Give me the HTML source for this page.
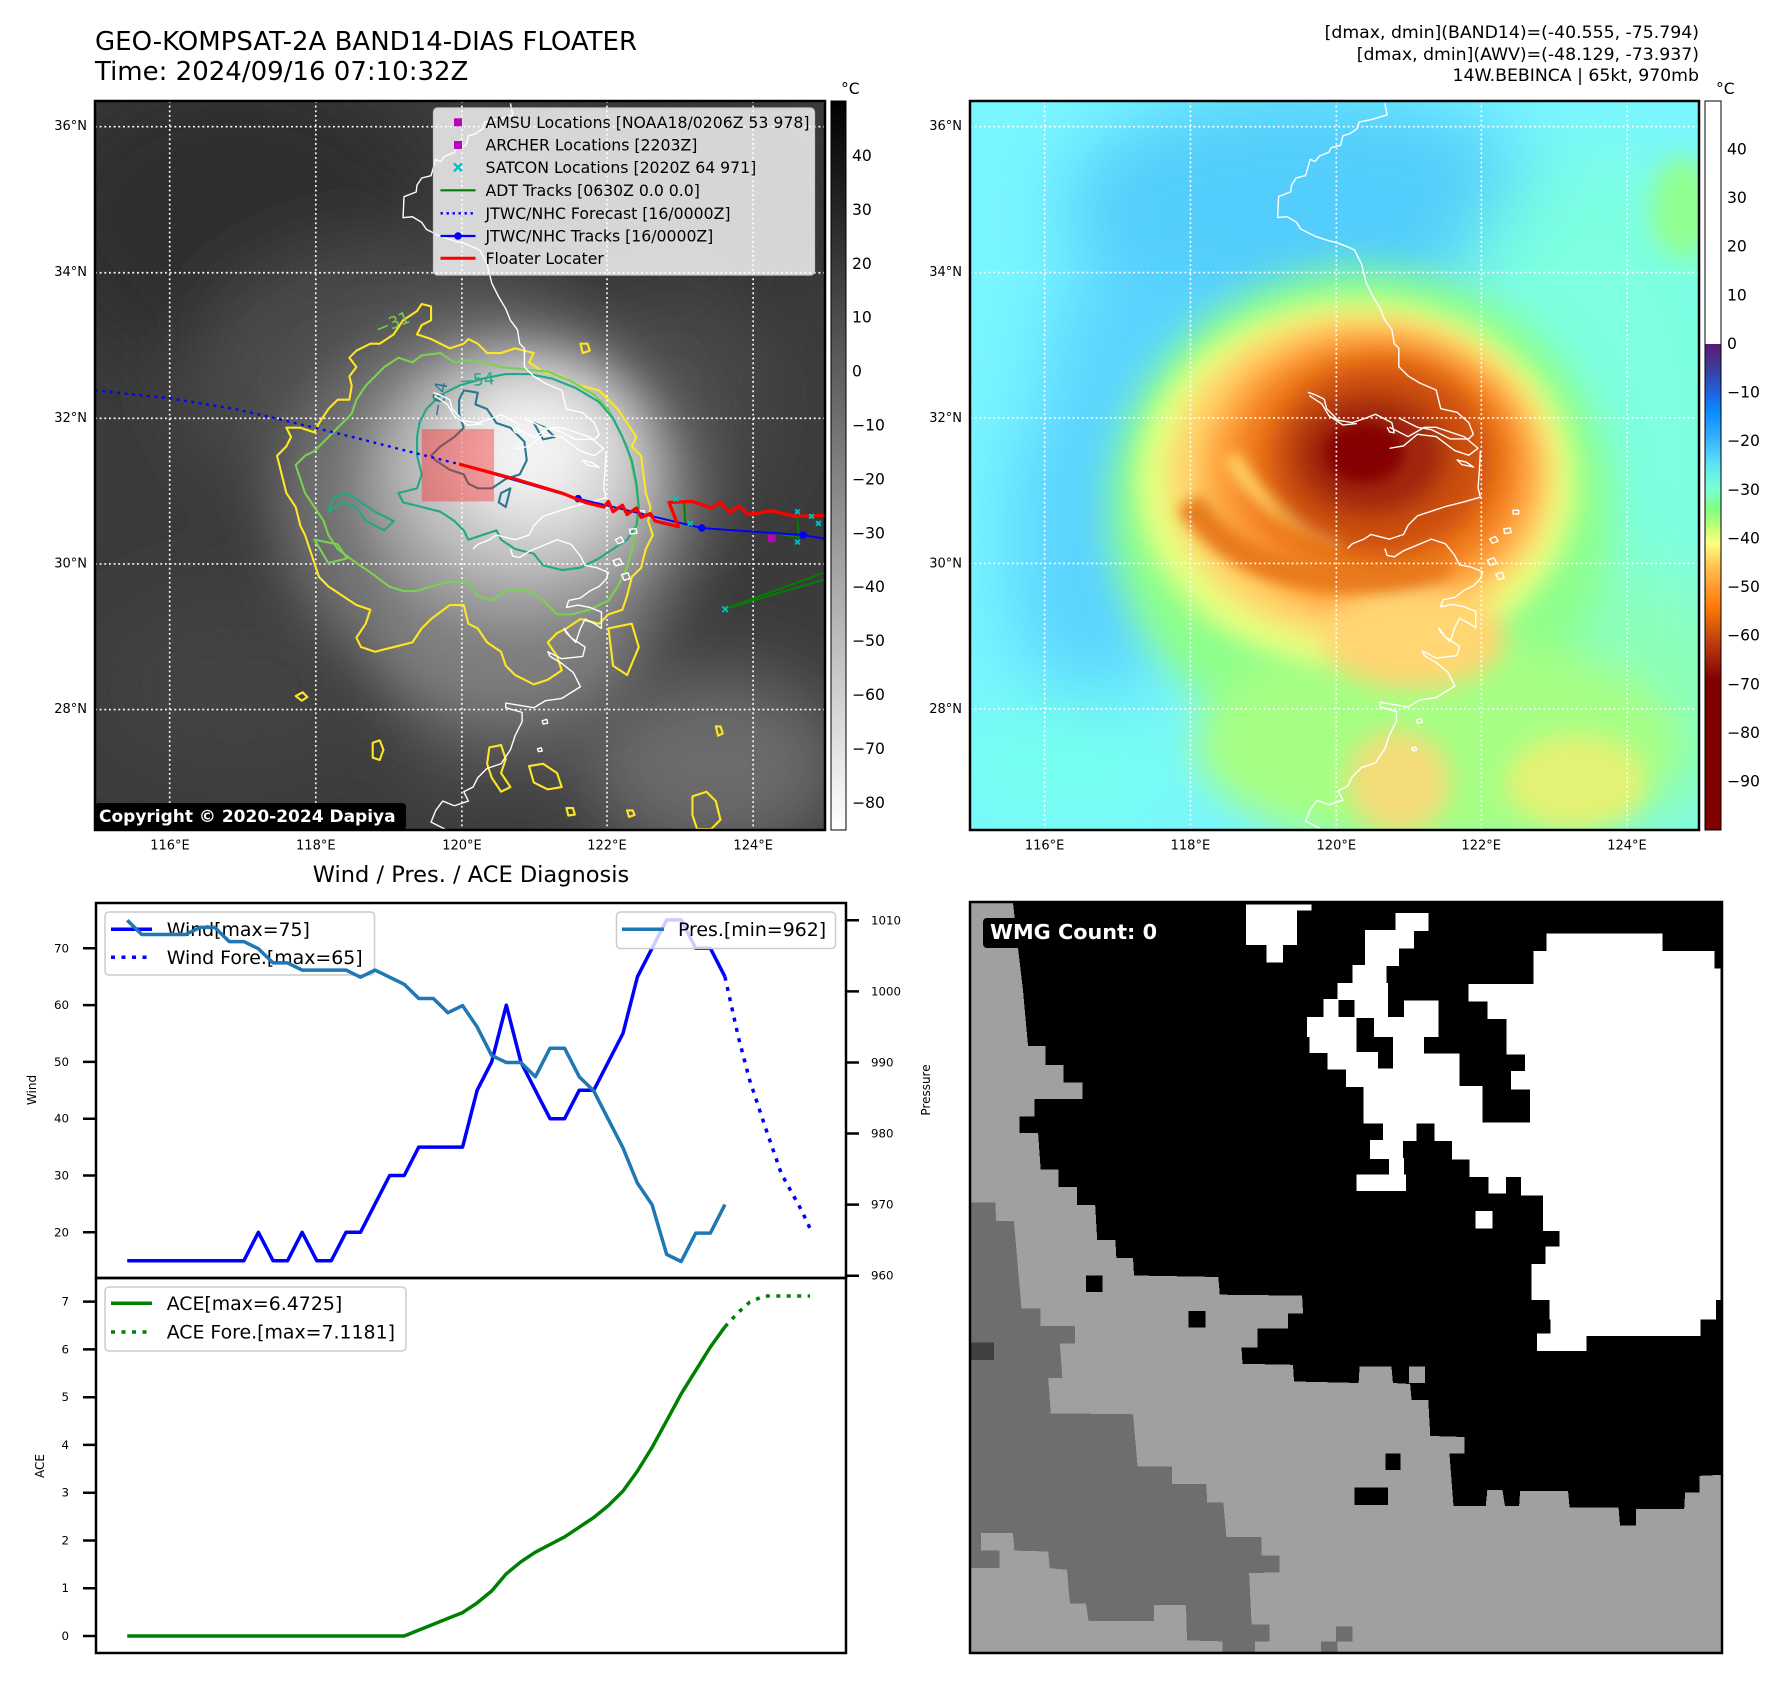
<!DOCTYPE html>
<html><head><meta charset="utf-8"><style>
html,body{margin:0;padding:0;background:#fff;}
svg{display:block;}
text{font-family:"DejaVu Sans","Liberation Sans",sans-serif;}
</style></head><body>
<svg width="1788" height="1690" viewBox="0 0 1788 1690" xmlns="http://www.w3.org/2000/svg">
<defs>
 <linearGradient id="gcb" x1="0" y1="0" x2="0" y2="1"><stop offset="0" stop-color="#000"/><stop offset="1" stop-color="#fff"/></linearGradient>
 <linearGradient id="jcb" x1="0" y1="0" x2="0" y2="1">
  <stop offset="0" stop-color="#fff"/><stop offset="0.333" stop-color="#fff"/>
  <stop offset="0.3334" stop-color="#5c1a72"/><stop offset="0.3667" stop-color="#3c3c9c"/>
  <stop offset="0.4" stop-color="#1e64dc"/><stop offset="0.4267" stop-color="#0a8cff"/>
  <stop offset="0.4667" stop-color="#3cb4ff"/><stop offset="0.5" stop-color="#5ee6f0"/>
  <stop offset="0.5333" stop-color="#7cffd4"/><stop offset="0.56" stop-color="#80ff80"/>
  <stop offset="0.5867" stop-color="#c8ff78"/><stop offset="0.6067" stop-color="#ffff80"/>
  <stop offset="0.64" stop-color="#ffc050"/><stop offset="0.6667" stop-color="#ff9a30"/>
  <stop offset="0.6933" stop-color="#ff7a08"/><stop offset="0.72" stop-color="#d85a08"/>
  <stop offset="0.7467" stop-color="#b83810"/><stop offset="0.7733" stop-color="#9a1a08"/>
  <stop offset="0.7933" stop-color="#800000"/><stop offset="1" stop-color="#800000"/>
 </linearGradient>
 <filter id="b80" filterUnits="userSpaceOnUse" x="-400" y="-400" width="2400" height="2400"><feGaussianBlur stdDeviation="80"/></filter>
 <filter id="b60" filterUnits="userSpaceOnUse" x="-400" y="-400" width="2400" height="2400"><feGaussianBlur stdDeviation="60"/></filter>
 <filter id="b40" filterUnits="userSpaceOnUse" x="-400" y="-400" width="2400" height="2400"><feGaussianBlur stdDeviation="40"/></filter>
 <filter id="b25" filterUnits="userSpaceOnUse" x="-400" y="-400" width="2400" height="2400"><feGaussianBlur stdDeviation="25"/></filter>
 <filter id="b15" filterUnits="userSpaceOnUse" x="-400" y="-400" width="2400" height="2400"><feGaussianBlur stdDeviation="14"/></filter>
 <g id="coast" fill="none" stroke="#fff" stroke-width="3" stroke-linejoin="round">
  <path d="M890,5 L895,30 L860,40 L835,45 L830,60 L815,70 L800,75 L795,95 L775,100 L770,110 L750,118 L740,130 L730,125 L720,160 L700,165 L690,180 L688,195 L662,205 L660,250 L680,248 L700,260 L710,275 L740,290 L770,300 L790,305 L815,315 L825,320 L840,350 L850,390 L865,420 L880,445 L890,470 L905,490 L910,520 L920,530 L920,570 L940,590 L965,605 L1000,620 L1005,640 L1010,660 L1045,668 L1070,690 L1080,715 L1070,725 L1030,725 L990,705 L960,700 L940,690 L920,680"/>
  <path d="M725,625 L740,630 L760,640 L765,660 L790,685 L820,690 L850,680 L870,672 L905,690 L910,712 L900,710 L895,700 M728,632 L755,650 L770,675 L800,695 L830,692"/>
  <path d="M900,700 L940,720 L975,700 L1000,700 L1060,720 L1090,745 L1070,760 L1040,750 L1000,720 L960,715 L930,740 L900,745 M1045,770 L1065,775 L1080,785 L1055,780 Z"/>
  <path d="M1095,750 L1093,790 L1090,830 L1095,850 L1060,860 L1020,870 L990,880 L960,890 L940,910 L930,930 L900,940 L880,935 L860,930 L845,940 L820,950 L810,960"/>
  <path d="M890,960 L895,975 L910,978 L930,965 L990,940 L1020,950 L1040,975 L1050,995 L1075,1000 L1100,1010 L1095,1025 L1080,1040 L1060,1050 L1040,1065 L1015,1070 L1010,1085 L1035,1080 L1060,1085 L1085,1095 L1085,1130 L1070,1120 L1050,1110 L1040,1130 L1030,1160 L1010,1140 L1005,1130 L1020,1150 L1050,1170 L1045,1190 L1000,1195 L970,1180 L975,1190 L1000,1205 L1025,1225 L1040,1255 L1000,1280 L965,1285 L940,1300 L880,1290 L880,1300 L915,1310 L915,1330 L900,1360 L890,1390 L870,1420 L840,1430 L820,1450 L810,1470 L790,1480 L800,1500 L770,1510 L745,1500 L730,1520 L720,1545 L750,1560"/>
  <path d="M1115,940 l12,-6 l6,10 l-12,5 z M1145,918 l14,-2 l2,10 l-14,2 z M1165,878 l12,0 l0,8 l-12,0 z M1110,985 l14,-5 l6,12 l-14,4 z M1128,1015 l14,-4 l4,12 l-12,4 z M958,1328 l10,-3 l2,8 l-10,2 z M948,1388 l8,-2 l2,7 l-8,1 z"/>
 </g>
</defs>
<rect width="1788" height="1690" fill="#fff"/>

<!-- Titles -->
<text x="95" y="50" font-size="26">GEO-KOMPSAT-2A BAND14-DIAS FLOATER</text>
<text x="95" y="80" font-size="26">Time: 2024/09/16 07:10:32Z</text>
<text x="1699" y="38" font-size="17.3" text-anchor="end">[dmax, dmin](BAND14)=(-40.555, -75.794)</text>
<text x="1699" y="60" font-size="17.3" text-anchor="end">[dmax, dmin](AWV)=(-48.129, -73.937)</text>
<text x="1699" y="81" font-size="17.3" text-anchor="end">14W.BEBINCA | 65kt, 970mb</text>

<!-- LEFT MAP -->
<svg x="95" y="101" width="730" height="729" viewBox="0 0 1564 1562" preserveAspectRatio="none">
 <rect width="1564" height="1562" fill="#3b3b3b"/>
 <g filter="url(#b80)">
  <ellipse cx="300" cy="250" rx="420" ry="320" fill="#2d2d2d"/>
  <ellipse cx="1250" cy="250" rx="350" ry="250" fill="#363636"/>
  <ellipse cx="650" cy="600" rx="450" ry="300" fill="#4c4c4c"/>
  <ellipse cx="300" cy="1250" rx="300" ry="200" fill="#434343"/>
  <ellipse cx="1330" cy="1420" rx="280" ry="200" fill="#6c6c6c"/>
  <ellipse cx="1250" cy="650" rx="200" ry="250" fill="#4a4a4a"/>
  <ellipse cx="850" cy="1350" rx="200" ry="120" fill="#555"/>
 </g>
 <g filter="url(#b60)">
  <ellipse cx="850" cy="860" rx="460" ry="410" fill="#727272"/>
  <ellipse cx="880" cy="1150" rx="300" ry="190" fill="#7e7e7e"/>
 </g>
 <g filter="url(#b40)">
  <ellipse cx="900" cy="820" rx="340" ry="310" fill="#9c9c9c"/>
  <ellipse cx="920" cy="790" rx="270" ry="240" fill="#c0c0c0"/>
  <ellipse cx="940" cy="765" rx="190" ry="175" fill="#dedede"/>
  <ellipse cx="930" cy="750" rx="110" ry="100" fill="#f3f3f3"/>
 </g>
 <g stroke="#fff" stroke-width="3.5" stroke-dasharray="4 6" fill="none">
  <path d="M160,0V1562M473,0V1562M786,0V1562M1097,0V1562M1410,0V1562M0,55H1564M0,368H1564M0,680H1564M0,992H1564M0,1304H1564"/>
 </g>
 <!-- contours -->
 <g fill="none" stroke-width="4.5" stroke-linejoin="round">
  <path stroke="#fde725" d="M390,760 L410,740 L420,720 L410,700 L440,700 L470,710 L480,690 L500,660 L520,640 L545,640 L550,610 L545,590 L560,570 L545,550 L560,535 L590,520 L610,520 L640,500 L660,470 L690,450 L700,435 L720,440 L720,470 L700,480 L690,500 L720,510 L760,530 L790,520 L800,510 L820,520 L840,540 L870,540 L900,530 L940,540 L930,560 L960,580 L1000,590 L1040,610 L1080,620 L1100,640 L1120,660 L1140,690 L1160,720 L1150,740 L1170,760 L1175,800 L1180,840 L1190,870 L1185,900 L1195,930 L1180,960 L1170,1000 L1150,1020 L1140,1060 L1130,1090 L1100,1100 L1080,1120 L1040,1110 L1010,1130 L990,1140 L970,1160 L990,1190 L1000,1220 L970,1240 L940,1250 L920,1240 L900,1230 L880,1210 L870,1180 L840,1160 L820,1130 L800,1120 L790,1080 L760,1080 L720,1110 L700,1130 L680,1160 L640,1170 L600,1180 L570,1170 L560,1150 L580,1120 L590,1090 L560,1080 L530,1060 L500,1040 L480,1020 L470,990 L460,960 L450,930 L440,910 L430,870 L410,840 L400,800 Z M430,1275 l15,-8 l10,10 l-12,8 z M595,1375 l15,-5 l8,20 l-8,22 l-15,-5 z M845,1385 L870,1380 L880,1410 L870,1440 L890,1470 L870,1480 L850,1450 L840,1420 Z M930,1425 L960,1420 L990,1440 L1000,1470 L970,1475 L940,1460 Z M1280,1490 L1310,1480 L1330,1500 L1340,1540 L1320,1560 L1290,1560 L1280,1530 Z M1330,1340 l10,0 l5,15 l-10,5 z M1040,520 l15,0 l5,15 l-15,5 z M1140,1520 l12,0 l4,10 l-12,4 z M1010,1515 l14,0 l4,14 l-14,2 z M1100,1130 L1150,1120 L1165,1170 L1140,1230 L1110,1210 Z"/>
  <path stroke="#7ad151" d="M430,780 L450,760 L470,750 L490,730 L520,700 L550,670 L560,640 L580,610 L600,590 L620,570 L650,550 L680,560 L700,545 L740,540 L770,560 L800,555 L830,560 L870,570 L920,575 L970,580 L1020,600 L1070,630 L1100,660 L1120,700 L1140,740 L1150,780 L1160,830 L1165,880 L1160,920 L1150,960 L1140,1000 L1120,1040 L1100,1070 L1060,1090 L1020,1100 L990,1100 L960,1070 L930,1050 L880,1050 L850,1070 L820,1060 L800,1030 L760,1030 L720,1040 L690,1050 L660,1050 L630,1040 L590,1010 L560,990 L520,960 L500,930 L490,900 L470,870 L450,840 L440,810 Z M470,940 L520,950 L540,980 L500,990 Z"/>
  <path stroke="#22a884" d="M690,720 L695,690 L710,660 L740,630 L780,610 L830,595 L880,585 L930,585 L980,595 L1030,615 L1080,645 L1110,680 L1130,720 L1150,770 L1160,820 L1165,870 L1160,910 L1140,940 L1110,960 L1080,980 L1040,1000 L1000,1005 L960,995 L940,970 L900,960 L870,940 L860,920 L830,930 L800,940 L790,920 L770,900 L740,880 L700,870 L660,860 L650,840 L690,830 L700,800 L690,760 Z M500,880 L530,860 L560,870 L580,900 L620,920 L640,900 L600,880 L570,860 L540,840 L510,850 Z"/>
  <path stroke="#2a788e" d="M790,620 L820,625 L815,650 L840,660 L860,690 L890,700 L920,730 L925,770 L910,800 L880,810 L850,830 L820,830 L800,820 L790,800 L760,790 L730,770 L720,760 L740,740 L770,720 L790,700 L780,670 L780,640 Z M940,690 L965,700 L985,720 L960,725 Z M870,840 L890,830 L880,870 L865,860 Z"/>
 </g>
 <text x="600" y="495" font-size="36" fill="#7ad151" transform="rotate(-22 620 480)">−31</text>
 <text x="780" y="610" font-size="36" fill="#22a884" transform="rotate(-5 815 600)">−54</text>
 <text x="735" y="710" font-size="36" fill="#2a788e" transform="rotate(-80 720 690)">−64</text>
 <use href="#coast"/>
 <rect x="700" y="703" width="155" height="155" fill="#ff2020" fill-opacity="0.4"/>
 <path d="M0,620 L160,637 L300,660 L400,683 L560,722 L700,758 L780,778" fill="none" stroke="#0000ff" stroke-width="5" stroke-dasharray="6 10"/>
 <g stroke="#008000" stroke-width="4" fill="none">
  <path d="M1350,1088 L1564,1010 M1350,1088 L1564,1025 M1262,860 L1265,910 M1505,890 L1508,935 L1450,925"/>
 </g>
 <path d="M780,778 L1035,852 L1300,915 L1517,930 L1564,938" fill="none" stroke="#0000ff" stroke-width="4"/>
 <g fill="#0000ff"><circle cx="1035" cy="852" r="8"/><circle cx="1300" cy="915" r="8"/><circle cx="1517" cy="930" r="8"/></g>
 <path d="M780,778 L900,810 L1000,840 L1050,860 L1090,870 L1100,858 L1110,880 L1130,866 L1140,886 L1160,872 L1170,892 L1190,884 L1200,900 L1250,912 L1230,860 L1280,858 L1320,872 L1340,860 L1360,882 L1380,868 L1400,886 L1450,878 L1500,890 L1564,888" fill="none" stroke="#ff0000" stroke-width="7" stroke-linejoin="round"/>
 <g stroke="#00bfbf" stroke-width="4">
  <path d="M1240,848 l10,10 m0,-10 l-10,10 M1270,900 l10,10 m0,-10 l-10,10 M1500,875 l10,10 m0,-10 l-10,10 M1530,885 l10,10 m0,-10 l-10,10 M1500,940 l10,10 m0,-10 l-10,10 M1545,900 l10,10 m0,-10 l-10,10 M1344,1083 l12,12 m0,-12 l-12,12"/>
 </g>
 <rect x="1442" y="929" width="16" height="16" fill="#bf00bf"/>
</svg>
<rect x="95" y="101" width="730" height="729" fill="none" stroke="#000" stroke-width="2.5"/>
<!-- left legend -->
<rect x="433.5" y="108" width="381" height="167" rx="4" fill="#fff" fill-opacity="0.8" stroke="#ccc" stroke-width="1.2"/>
<rect x="454" y="118.3" width="8" height="8" fill="#bf00bf"/>
<rect x="454" y="141" width="8" height="8" fill="#bf00bf"/>
<path d="M454,163.3 l8,8 m0,-8 l-8,8" stroke="#00bfbf" stroke-width="2.2"/>
<line x1="440.5" y1="190.3" x2="475.5" y2="190.3" stroke="#008000" stroke-width="2.2"/>
<line x1="440.5" y1="213.3" x2="475.5" y2="213.3" stroke="#0000ff" stroke-width="2.4" stroke-dasharray="2.4 3.6"/>
<line x1="440.5" y1="236" x2="475.5" y2="236" stroke="#0000ff" stroke-width="2.2"/><circle cx="458" cy="236" r="3.8" fill="#0000ff"/>
<line x1="440.5" y1="258.3" x2="475.5" y2="258.3" stroke="#ff0000" stroke-width="3"/>
<g font-size="15.7">
 <text x="485.5" y="127.9">AMSU Locations [NOAA18/0206Z 53 978]</text>
 <text x="485.5" y="150.6">ARCHER Locations [2203Z]</text>
 <text x="485.5" y="172.9">SATCON Locations [2020Z 64 971]</text>
 <text x="485.5" y="195.9">ADT Tracks [0630Z 0.0 0.0]</text>
 <text x="485.5" y="218.9">JTWC/NHC Forecast [16/0000Z]</text>
 <text x="485.5" y="241.6">JTWC/NHC Tracks [16/0000Z]</text>
 <text x="485.5" y="263.9">Floater Locater</text>
</g>
<rect x="95" y="803" width="311" height="27" rx="4" fill="#000"/>
<text x="99" y="822" font-size="17" font-weight="bold" fill="#fff">Copyright © 2020-2024 Dapiya</text>

<!-- left colorbar -->
<rect x="831" y="101" width="15" height="729" fill="url(#gcb)" stroke="#000" stroke-width="1"/>
<text x="841" y="94" font-size="15.6">°C</text>
<g font-size="15.6" dominant-baseline="central">
 <text x="852" y="156">40</text><text x="852" y="209.9">30</text><text x="852" y="263.8">20</text><text x="852" y="317.7">10</text><text x="852" y="371.6">0</text><text x="852" y="425.5">−10</text><text x="852" y="479.4">−20</text><text x="852" y="533.3">−30</text><text x="852" y="587.2">−40</text><text x="852" y="641.1">−50</text><text x="852" y="695">−60</text><text x="852" y="748.9">−70</text><text x="852" y="802.8">−80</text>
</g>
<!-- map tick labels -->
<g font-size="13" text-anchor="end" dominant-baseline="central">
 <text x="87" y="126.7">36°N</text><text x="87" y="272.7">34°N</text><text x="87" y="418.3">32°N</text><text x="87" y="563.9">30°N</text><text x="87" y="709.5">28°N</text>
 <text x="962" y="126.7">36°N</text><text x="962" y="272.7">34°N</text><text x="962" y="418.3">32°N</text><text x="962" y="563.9">30°N</text><text x="962" y="709.5">28°N</text>
</g>
<g font-size="13" text-anchor="middle" dominant-baseline="central">
 <text x="170" y="846">116°E</text><text x="315.8" y="846">118°E</text><text x="462" y="846">120°E</text><text x="607" y="846">122°E</text><text x="753.2" y="846">124°E</text>
 <text x="1044.6" y="846">116°E</text><text x="1190.4" y="846">118°E</text><text x="1336.3" y="846">120°E</text><text x="1481.2" y="846">122°E</text><text x="1627" y="846">124°E</text>
</g>

<!-- RIGHT MAP -->
<svg x="970" y="101" width="729" height="729" viewBox="0 0 1564 1564" preserveAspectRatio="none">
 <rect width="1564" height="1564" fill="#7af6ff"/>
 <g filter="url(#b80)">
  <ellipse cx="720" cy="230" rx="520" ry="260" fill="#52cdfb"/>
  <ellipse cx="380" cy="520" rx="220" ry="160" fill="#5ad4ff"/>
  <ellipse cx="260" cy="950" rx="180" ry="380" fill="#5ad3ff"/>
  <ellipse cx="1350" cy="700" rx="350" ry="600" fill="#7dffe0"/>
  <ellipse cx="1400" cy="1300" rx="300" ry="300" fill="#8cffb8"/>
  <ellipse cx="200" cy="1420" rx="250" ry="150" fill="#76fff0"/>
 </g>
 <ellipse cx="1530" cy="230" rx="70" ry="110" fill="#92ff92" filter="url(#b25)"/>
 <g filter="url(#b40)">
  <ellipse cx="840" cy="880" rx="540" ry="520" fill="#8eff8a"/>
  <ellipse cx="1000" cy="1380" rx="520" ry="230" fill="#a6ff84"/>
 </g>
 <g filter="url(#b25)">
  <ellipse cx="830" cy="820" rx="470" ry="395" fill="#e6ff80"/>
  <ellipse cx="840" cy="805" rx="415" ry="350" fill="#ffd46a"/>
  <ellipse cx="860" cy="795" rx="360" ry="305" fill="#ffa23a"/>
  <ellipse cx="950" cy="1150" rx="200" ry="110" fill="#ffd672"/>
  <ellipse cx="920" cy="1460" rx="110" ry="110" fill="#f4dc78"/>
  <ellipse cx="1300" cy="1460" rx="150" ry="100" fill="#e4f274"/>
  <ellipse cx="870" cy="785" rx="305" ry="260" fill="#f07a1a"/>
 </g>
 <path d="M470,860 Q560,1000 760,1020 Q920,1030 1020,990" fill="none" stroke="#e87a1a" stroke-width="60" filter="url(#b15)"/>
 <path d="M560,760 Q620,880 800,940" fill="none" stroke="#ffcc60" stroke-width="40" filter="url(#b15)"/>
 <g filter="url(#b25)">
  <ellipse cx="880" cy="770" rx="240" ry="205" fill="#cc5010"/>
  <ellipse cx="860" cy="760" rx="165" ry="130" fill="#a02808"/>
 </g>
 <ellipse cx="845" cy="755" rx="85" ry="65" fill="#850500" filter="url(#b15)"/>
 <g stroke="#fff" stroke-width="3.5" stroke-dasharray="4 6" fill="none">
  <path d="M160,0V1564M473,0V1564M786,0V1564M1097,0V1564M1410,0V1564M0,55H1564M0,368H1564M0,680H1564M0,992H1564M0,1304H1564"/>
 </g>
 <use href="#coast"/>
</svg>
<rect x="970" y="101" width="729" height="729" fill="none" stroke="#000" stroke-width="2.5"/>
<rect x="1705" y="101" width="16" height="729" fill="url(#jcb)" stroke="#000" stroke-width="1"/>
<text x="1716" y="94" font-size="15.6">°C</text>
<g font-size="15.6" dominant-baseline="central">
 <text x="1727" y="149.5">40</text><text x="1727" y="198.1">30</text><text x="1727" y="246.7">20</text><text x="1727" y="295.4">10</text><text x="1727" y="344">0</text><text x="1727" y="392.6">−10</text><text x="1727" y="441.2">−20</text><text x="1727" y="489.8">−30</text><text x="1727" y="538.5">−40</text><text x="1727" y="587.1">−50</text><text x="1727" y="635.7">−60</text><text x="1727" y="684.3">−70</text><text x="1727" y="733">−80</text><text x="1727" y="781.6">−90</text>
</g>

<!-- CHARTS -->
<text x="471" y="882" font-size="22.5" text-anchor="middle">Wind / Pres. / ACE Diagnosis</text>
<g stroke="#000" stroke-width="2.5">
 <path d="M83,948.3H96M83,1005.1H96M83,1061.9H96M83,1118.7H96M83,1175.5H96M83,1232.3H96"/>
 <path d="M846,920.3H859M846,991.4H859M846,1062.5H859M846,1133.5H859M846,1204.6H859M846,1275.7H859"/>
 <path d="M83,1636H96M83,1588.2H96M83,1540.5H96M83,1492.7H96M83,1444.9H96M83,1397.2H96M83,1349.4H96M83,1301.6H96"/>
</g>
<g font-size="11.8" text-anchor="end" dominant-baseline="central">
 <text x="69" y="948.3">70</text><text x="69" y="1005.1">60</text><text x="69" y="1061.9">50</text><text x="69" y="1118.7">40</text><text x="69" y="1175.5">30</text><text x="69" y="1232.3">20</text>
 <text x="69" y="1636">0</text><text x="69" y="1588.2">1</text><text x="69" y="1540.5">2</text><text x="69" y="1492.7">3</text><text x="69" y="1444.9">4</text><text x="69" y="1397.2">5</text><text x="69" y="1349.4">6</text><text x="69" y="1301.6">7</text>
</g>
<g font-size="11.8" dominant-baseline="central">
 <text x="871" y="920.3">1010</text><text x="871" y="991.4">1000</text><text x="871" y="1062.5">990</text><text x="871" y="1133.5">980</text><text x="871" y="1204.6">970</text><text x="871" y="1275.7">960</text>
</g>
<text transform="translate(32,1090) rotate(-90)" font-size="12" text-anchor="middle" dominant-baseline="central">Wind</text>
<text transform="translate(926,1090) rotate(-90)" font-size="12" text-anchor="middle" dominant-baseline="central">Pressure</text>
<text transform="translate(40,1466) rotate(-90)" font-size="12" text-anchor="middle" dominant-baseline="central">ACE</text>

<g transform="translate(60,0) scale(0.996,1) translate(-60,0)">
<polyline fill="none" stroke="#0000ff" stroke-width="3.5" stroke-linejoin="round" points="127.5,1260.7 244.6,1260.7 259.2,1232.3 273.9,1260.7 288.5,1260.7 303.1,1232.3 317.8,1260.7 332.4,1260.7 347.1,1232.3 361.7,1232.3 376.3,1203.9 391.0,1175.5 405.6,1175.5 420.2,1147.1 464.2,1147.1 478.8,1090.3 493.4,1061.9 508.1,1005.1 522.7,1061.9 537.3,1090.3 552.0,1118.7 566.6,1118.7 581.3,1090.3 595.9,1090.3 610.5,1061.9 625.2,1033.5 639.8,976.7 654.4,948.3 669.1,919.9 683.7,919.9 698.3,948.3 713.0,948.3 727.6,976.7"/>
<polyline fill="none" stroke="#0000ff" stroke-width="3.5" stroke-dasharray="4 6.5" points="727.6,976.7 741,1036.7 752.4,1080 766.8,1123.3 784.1,1173.3 804.3,1210 813,1228.3"/>
</g>
<rect x="105" y="912" width="269.5" height="63" rx="4" fill="#fff" fill-opacity="0.8" stroke="#ccc" stroke-width="1.5"/>
<line x1="111" y1="929.3" x2="152" y2="929.3" stroke="#0000ff" stroke-width="3.5"/>
<line x1="111" y1="957.3" x2="152" y2="957.3" stroke="#0000ff" stroke-width="3.5" stroke-dasharray="4 6.5"/>
<text x="166.7" y="936" font-size="18.9">Wind[max=75]</text>
<text x="166.7" y="964" font-size="18.9">Wind Fore.[max=65]</text>
<g transform="translate(60,0) scale(0.996,1) translate(-60,0)">
<polyline fill="none" stroke="#1f77b4" stroke-width="3.5" stroke-linejoin="round" points="127.5,920.3 142.1,934.5 186.0,934.5 200.7,927.4 215.3,927.4 230.0,941.6 244.6,941.6 259.2,948.7 273.9,962.9 288.5,962.9 303.1,970.1 347.1,970.1 361.7,977.2 376.3,970.1 391.0,977.2 405.6,984.3 420.2,998.5 434.9,998.5 449.5,1012.7 464.2,1005.6 478.8,1026.9 493.4,1055.4 508.1,1062.5 522.7,1062.5 537.3,1076.7 552.0,1048.2 566.6,1048.2 581.3,1076.7 595.9,1090.9 610.5,1119.3 625.2,1147.8 639.8,1183.3 654.4,1204.6 669.1,1254.4 683.7,1261.5 698.3,1233.1 713.0,1233.1 727.6,1204.6"/>
</g>
<rect x="616.5" y="912" width="219" height="36.5" rx="4" fill="#fff" fill-opacity="0.8" stroke="#ccc" stroke-width="1.5"/>
<line x1="622" y1="929.3" x2="664" y2="929.3" stroke="#1f77b4" stroke-width="3.5"/>
<text x="678" y="936" font-size="18.9">Pres.[min=962]</text>

<g transform="translate(60,0) scale(0.996,1) translate(-60,0)">
<polyline fill="none" stroke="#008000" stroke-width="3.5" stroke-linejoin="round" points="127.5,1636 405.6,1636 420.2,1630.1 434.9,1624.3 449.5,1618.4 464.2,1612.6 478.8,1602.9 493.4,1591.0 508.1,1573.8 522.7,1561.8 537.3,1552.2 552.0,1544.5 566.6,1536.9 581.3,1527.2 595.9,1517.5 610.5,1505.6 625.2,1491.1 639.8,1471.0 654.4,1447.5 669.1,1420.7 683.7,1393.8 698.3,1370.4 713.0,1347.0 727.6,1326.8"/>
<polyline fill="none" stroke="#008000" stroke-width="3.5" stroke-dasharray="4 6.5" points="727.6,1326.8 741,1312.4 752.4,1302.2 766.8,1296 784.1,1296 804.3,1296 813,1296"/>
</g>
<rect x="105" y="1287" width="301" height="64" rx="4" fill="#fff" fill-opacity="0.8" stroke="#ccc" stroke-width="1.5"/>
<line x1="111" y1="1303.3" x2="152" y2="1303.3" stroke="#008000" stroke-width="3.5"/>
<line x1="111" y1="1332" x2="152" y2="1332" stroke="#008000" stroke-width="3.5" stroke-dasharray="4 6.5"/>
<text x="166.7" y="1310" font-size="18.9">ACE[max=6.4725]</text>
<text x="166.7" y="1338.7" font-size="18.9">ACE Fore.[max=7.1181]</text>
<rect x="96" y="903" width="750" height="375" fill="none" stroke="#000" stroke-width="2.5"/>
<rect x="96" y="1278" width="750" height="375" fill="none" stroke="#000" stroke-width="2.5"/>

<!-- WMG panel -->
<svg x="970" y="902" width="752" height="751" viewBox="20 25 1490 1488" preserveAspectRatio="none" shape-rendering="crispEdges">
 <rect x="20" y="25" width="1490" height="1488" fill="#a0a0a0"/>
 <polygon fill="#6e6e6e" points="20,620 70,620 72,657 107,657 122,830 160,830 160,865 228,865 228,900 198,900 203,968 175,968 180,1038 343,1040 352,1143 420,1143 420,1178 488,1178 490,1215 522,1215 528,1283 597,1283 598,1320 633,1320 633,1353 573,1355 578,1457 613,1457 613,1490 585,1490 585,1513 520,1513 520,1490 450,1488 448,1418 385,1418 385,1450 255,1450 250,1415 218,1415 212,1348 178,1345 175,1312 108,1310 105,1275 42,1275 42,1310 78,1310 78,1345 20,1345"/>
 <rect x="745" y="1460" width="33" height="30" fill="#6e6e6e"/><rect x="715" y="1490" width="33" height="23" fill="#6e6e6e"/>
 <rect x="20" y="898" width="48" height="34" fill="#404040"/>
 <polygon fill="#000" points="105,25 115,115 125,200 135,310 170,310 170,348 205,348 205,383 243,383 243,415 148,415 148,450 118,450 118,483 155,483 160,555 195,555 195,590 232,590 232,625 268,625 272,695 308,695 310,730 343,730 345,765 512,768 515,803 678,805 680,840 650,840 650,870 590,870 590,908 558,908 560,940 660,942 662,975 790,978 792,945 855,945 858,978 892,980 895,1012 928,1012 932,1083 1000,1085 1000,1118 970,1118 978,1222 1042,1222 1045,1190 1075,1190 1080,1222 1108,1222 1110,1192 1205,1192 1208,1225 1305,1225 1308,1260 1340,1260 1340,1228 1435,1228 1437,1195 1465,1195 1465,1162 1510,1160 1510,25"/>
 <rect x="890" y="945" width="32" height="33" fill="#a0a0a0"/>
 <g fill="#000"><rect x="250" y="765" width="33" height="33"/><rect x="453" y="835" width="34" height="33"/><rect x="843" y="1118" width="30" height="32"/><rect x="782" y="1185" width="66" height="35"/></g>
 <g fill="#fff">
  <rect x="567" y="30" width="130" height="12"/><rect x="567" y="40" width="101" height="70"/><rect x="607" y="108" width="33" height="37"/>
  <rect x="863" y="47" width="65" height="35"/><rect x="803" y="80" width="97" height="37"/><rect x="803" y="115" width="67" height="37"/>
  <rect x="778" y="150" width="67" height="37"/><rect x="748" y="185" width="100" height="34"/>
  <rect x="720" y="217" width="30" height="38"/><rect x="782" y="217" width="66" height="38"/><rect x="880" y="220" width="68" height="35"/>
  <rect x="688" y="253" width="98" height="39"/><rect x="820" y="253" width="128" height="39"/>
  <rect x="693" y="290" width="93" height="34"/><rect x="858" y="290" width="62" height="37"/>
  <rect x="728" y="322" width="100" height="35"/><rect x="858" y="325" width="132" height="32"/>
  <rect x="765" y="355" width="225" height="37"/><rect x="800" y="390" width="235" height="74"/>
  <rect x="838" y="462" width="67" height="37"/><rect x="940" y="462" width="567" height="37"/>
  <rect x="813" y="497" width="65" height="37"/><rect x="975" y="497" width="532" height="38"/>
  <rect x="850" y="532" width="30" height="35"/><rect x="1010" y="533" width="497" height="37"/>
  <rect x="786" y="565" width="98" height="33"/><rect x="1047" y="568" width="35" height="35"/><rect x="1112" y="568" width="395" height="39"/>
  <rect x="1162" y="87" width="230" height="37"/><rect x="1137" y="122" width="358" height="37"/><rect x="1137" y="157" width="370" height="32"/>
  <rect x="1008" y="187" width="499" height="35"/><rect x="1045" y="220" width="462" height="37"/><rect x="1083" y="255" width="424" height="72"/>
  <rect x="1120" y="325" width="387" height="37"/><rect x="1092" y="360" width="415" height="37"/><rect x="1130" y="395" width="377" height="69"/>
  <rect x="1155" y="605" width="352" height="72"/><rect x="1188" y="675" width="319" height="35"/><rect x="1160" y="708" width="347" height="36"/>
  <rect x="1133" y="742" width="374" height="72"/><rect x="1168" y="812" width="330" height="40"/><rect x="1170" y="850" width="297" height="35"/>
  <rect x="1143" y="880" width="99" height="35"/><rect x="1022" y="637" width="33" height="35"/>
 </g>
</svg>
<rect x="970" y="902" width="752" height="751" fill="none" stroke="#000" stroke-width="2.5"/>
<rect x="983" y="918" width="177" height="30" rx="4" fill="#000"/>
<text x="990" y="939" font-size="20.8" font-weight="bold" fill="#fff">WMG Count: 0</text>
</svg>
</body></html>
